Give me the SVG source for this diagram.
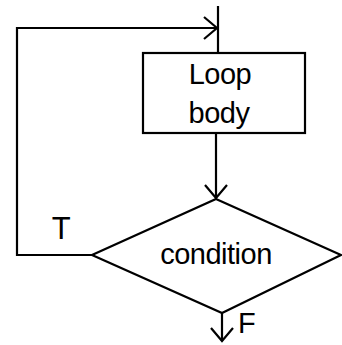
<svg xmlns="http://www.w3.org/2000/svg" width="342" height="345" viewBox="0 0 342 345">
<style>
.shape{fill:#fff;stroke:#000;stroke-width:2.2}
.conn{fill:none;stroke:#000;stroke-width:2.2}
.lbl{font-family:"Liberation Sans",Arial,sans-serif;font-size:29px;letter-spacing:-0.5px;fill:#000}
</style>
<defs>
<marker id="arr" markerUnits="userSpaceOnUse" markerWidth="30" markerHeight="30" viewBox="-15 -15 30 30" refX="0" refY="0" orient="auto">
<path d="M-13,-11 L0,0 L-13,11" fill="none" stroke="#000" stroke-width="2.2"/>
</marker>
</defs>
<rect width="342" height="345" fill="#fff"/>
<g id="connectors">
<polyline class="conn" points="92,255 17,255 17,28 217,28" marker-end="url(#arr)"/>
<line class="conn" x1="218" y1="6" x2="218" y2="53"/>
<line class="conn" x1="216" y1="133" x2="216" y2="198" marker-end="url(#arr)"/>
<line class="conn" x1="222" y1="313" x2="222" y2="341" marker-end="url(#arr)"/>
</g>
<g id="loop-body">
<rect class="shape" x="143" y="53" width="162" height="80"/>
<text class="lbl" x="220" y="84" text-anchor="middle">Loop</text>
<text class="lbl" x="219" y="123" text-anchor="middle">body</text>
</g>
<g id="condition">
<polygon class="shape" points="216,199 341,255 222,313 92,255"/>
<text class="lbl" x="216" y="264" text-anchor="middle">condition</text>
</g>
<g id="labels">
<text class="lbl" x="61" y="239" text-anchor="middle" style="font-size:31px">T</text>
<text class="lbl" x="238" y="333">F</text>
</g>
</svg>
